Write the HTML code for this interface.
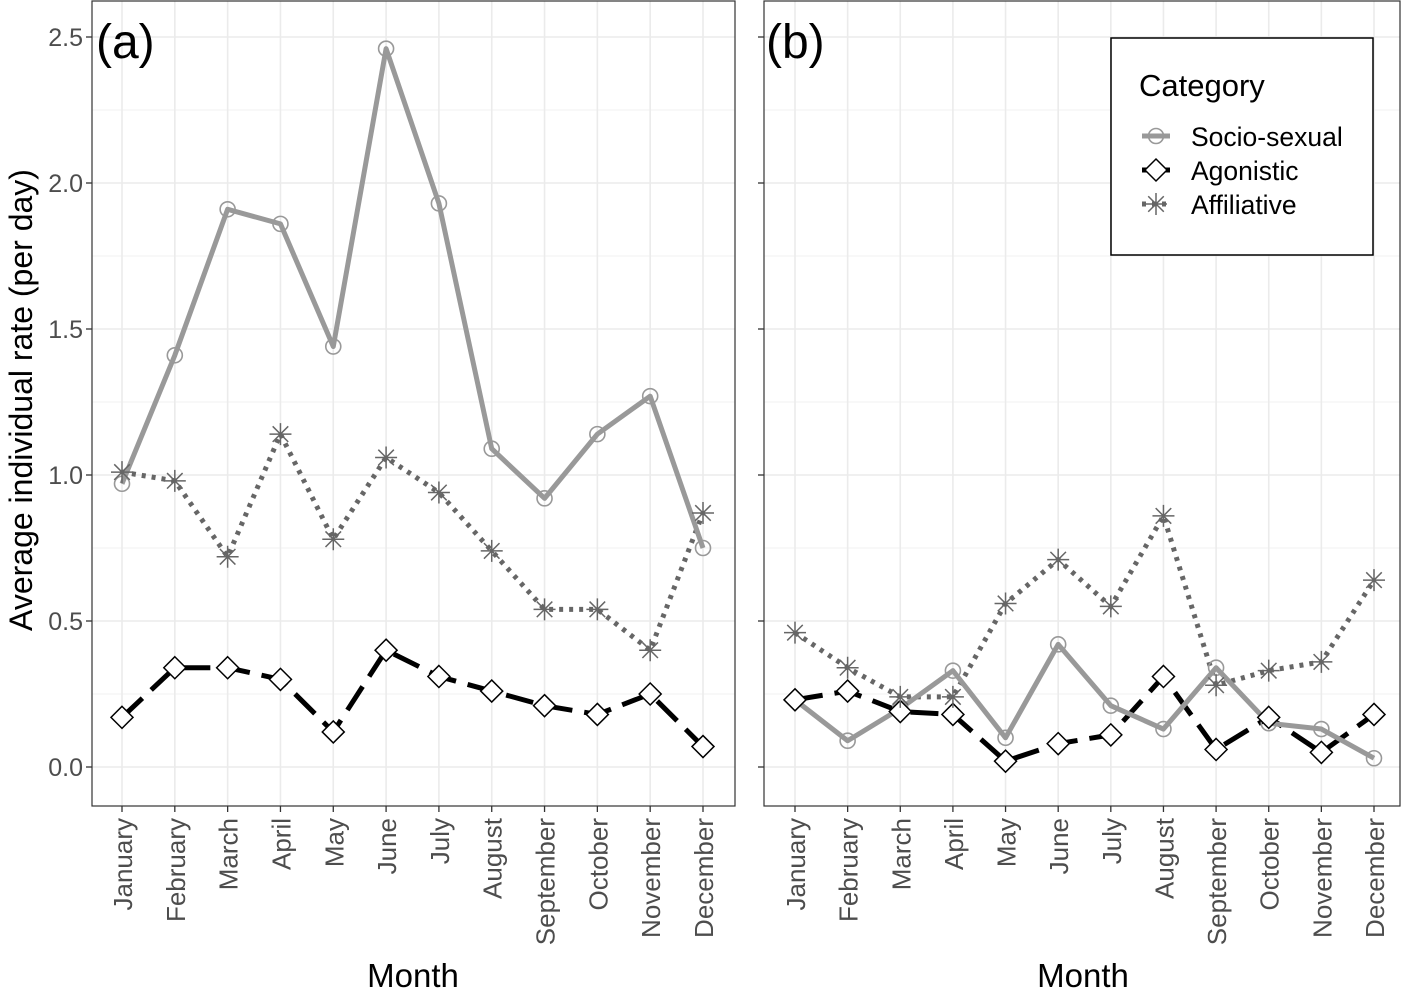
<!DOCTYPE html>
<html><head><meta charset="utf-8"><style>
body{margin:0;background:#fff}
svg{display:block;font-family:"Liberation Sans",Arial,sans-serif}
</style></head><body>
<svg id="s" width="1408" height="992" viewBox="0 0 1408 992">
<g id="grid"></g>
<g id="data"></g>
<rect x="92" y="1" width="643" height="805" fill="none" stroke="#333" stroke-width="1.2"/>
<rect x="764" y="1" width="636" height="805" fill="none" stroke="#333" stroke-width="1.2"/>
<g font-size="25" fill="#4d4d4d" text-anchor="end">
<text x="83" y="776">0.0</text><text x="83" y="630">0.5</text><text x="83" y="484">1.0</text><text x="83" y="338">1.5</text><text x="83" y="192">2.0</text><text x="83" y="46">2.5</text>
</g>
<text transform="translate(32,400) rotate(-90)" font-size="32" text-anchor="middle" fill="#000">Average individual rate (per day)</text>
<text x="413" y="987" font-size="33" text-anchor="middle">Month</text>
<text x="1083" y="987" font-size="33" text-anchor="middle">Month</text>
<text x="96" y="58" font-size="48">(a)</text>
<text x="766" y="58" font-size="48">(b)</text>
<g id="mlab" font-size="26" fill="#4d4d4d" text-anchor="end"></g>
<rect x="1111" y="38" width="262" height="217" fill="#fff" stroke="#000" stroke-width="1.5"/>
<text x="1139" y="96" font-size="31">Category</text>
<g font-size="26.5"><text x="1191" y="146">Socio-sexual</text><text x="1191" y="180">Agonistic</text><text x="1191" y="214">Affiliative</text></g>
<g id="leg"></g>
</svg>
<script>
const NS="http://www.w3.org/2000/svg";
function el(p,t,a){const e=document.createElementNS(NS,t);for(const k in a)e.setAttribute(k,a[k]);document.getElementById(p).appendChild(e);return e;}
const months=["January","February","March","April","May","June","July","August","September","October","November","December"];
const Y=v=>767-v*292;
const panels=[{x0:122,x1:703,l:92,r:735},{x0:795,x1:1374,l:764,r:1400}];
const data=[
{s:[0.97,1.41,1.91,1.86,1.44,2.46,1.93,1.09,0.92,1.14,1.27,0.75],
 a:[0.17,0.34,0.34,0.30,0.12,0.40,0.31,0.26,0.21,0.18,0.25,0.07],
 f:[1.01,0.98,0.72,1.14,0.78,1.06,0.94,0.74,0.54,0.54,0.40,0.87]},
{s:[0.23,0.09,0.20,0.33,0.10,0.42,0.21,0.13,0.34,0.15,0.13,0.03],
 a:[0.23,0.26,0.19,0.18,0.02,0.08,0.11,0.31,0.06,0.17,0.05,0.18],
 f:[0.46,0.34,0.24,0.24,0.56,0.71,0.55,0.86,0.28,0.33,0.36,0.64]}];
function circ(g,x,y){el(g,"circle",{cx:x,cy:y,r:7.5,fill:"none",stroke:"#999","stroke-width":1.6});}
function dia(g,x,y){el(g,"path",{d:`M${x} ${y-11}L${x+11} ${y}L${x} ${y+11}L${x-11} ${y}Z`,fill:"#fff",stroke:"#000","stroke-width":1.5});}
function star(g,x,y){let d="";for(let i=0;i<4;i++){const a=i*Math.PI/4,dx=11*Math.cos(a),dy=11*Math.sin(a);d+=`M${x-dx} ${y-dy}L${x+dx} ${y+dy}`;}el(g,"path",{d,stroke:"#666","stroke-width":1.5,fill:"none"});}
panels.forEach((p,pi)=>{
 const st=(p.x1-p.x0)/11,X=i=>p.x0+i*st;
 for(let v=0.25;v<2.6;v+=0.5)el("grid","line",{x1:p.l,x2:p.r,y1:Y(v),y2:Y(v),stroke:"#f2f2f2","stroke-width":1});
 for(let v=0;v<2.6;v+=0.5){el("grid","line",{x1:p.l,x2:p.r,y1:Y(v),y2:Y(v),stroke:"#ebebeb","stroke-width":1.6});el("grid","line",{x1:p.l-6,x2:p.l,y1:Y(v),y2:Y(v),stroke:"#333","stroke-width":1.3});}
 for(let i=0;i<12;i++){el("grid","line",{x1:X(i),x2:X(i),y1:1,y2:806,stroke:"#ebebeb","stroke-width":1.6});el("grid","line",{x1:X(i),x2:X(i),y1:806,y2:812,stroke:"#333","stroke-width":1.3});
  const t=el("mlab","text",{transform:`translate(${X(i)+10},818) rotate(-90)`});t.textContent=months[i];}
 const d=data[pi];
 const pts=a=>a.map((v,i)=>X(i)+","+Y(v)).join(" ");
 el("data","polyline",{points:pts(d.f),fill:"none",stroke:"#666","stroke-width":5,"stroke-dasharray":"4 6"});
 el("data","polyline",{points:pts(d.a),fill:"none",stroke:"#000","stroke-width":5,"stroke-dasharray":"28 12"});
 el("data","polyline",{points:pts(d.s),fill:"none",stroke:"#999","stroke-width":5,"stroke-linejoin":"round"});
 d.s.forEach((v,i)=>circ("data",X(i),Y(v)));
 d.a.forEach((v,i)=>dia("data",X(i),Y(v)));
 d.f.forEach((v,i)=>star("data",X(i),Y(v)));
});
el("leg","line",{x1:1142,x2:1170,y1:136,y2:136,stroke:"#999","stroke-width":5});circ("leg",1156,136);
el("leg","line",{x1:1142,x2:1170,y1:170,y2:170,stroke:"#000","stroke-width":5});dia("leg",1156,170);
el("leg","line",{x1:1142,x2:1170,y1:204,y2:204,stroke:"#666","stroke-width":5,"stroke-dasharray":"4 6"});star("leg",1156,204);
</script>
</body></html>
